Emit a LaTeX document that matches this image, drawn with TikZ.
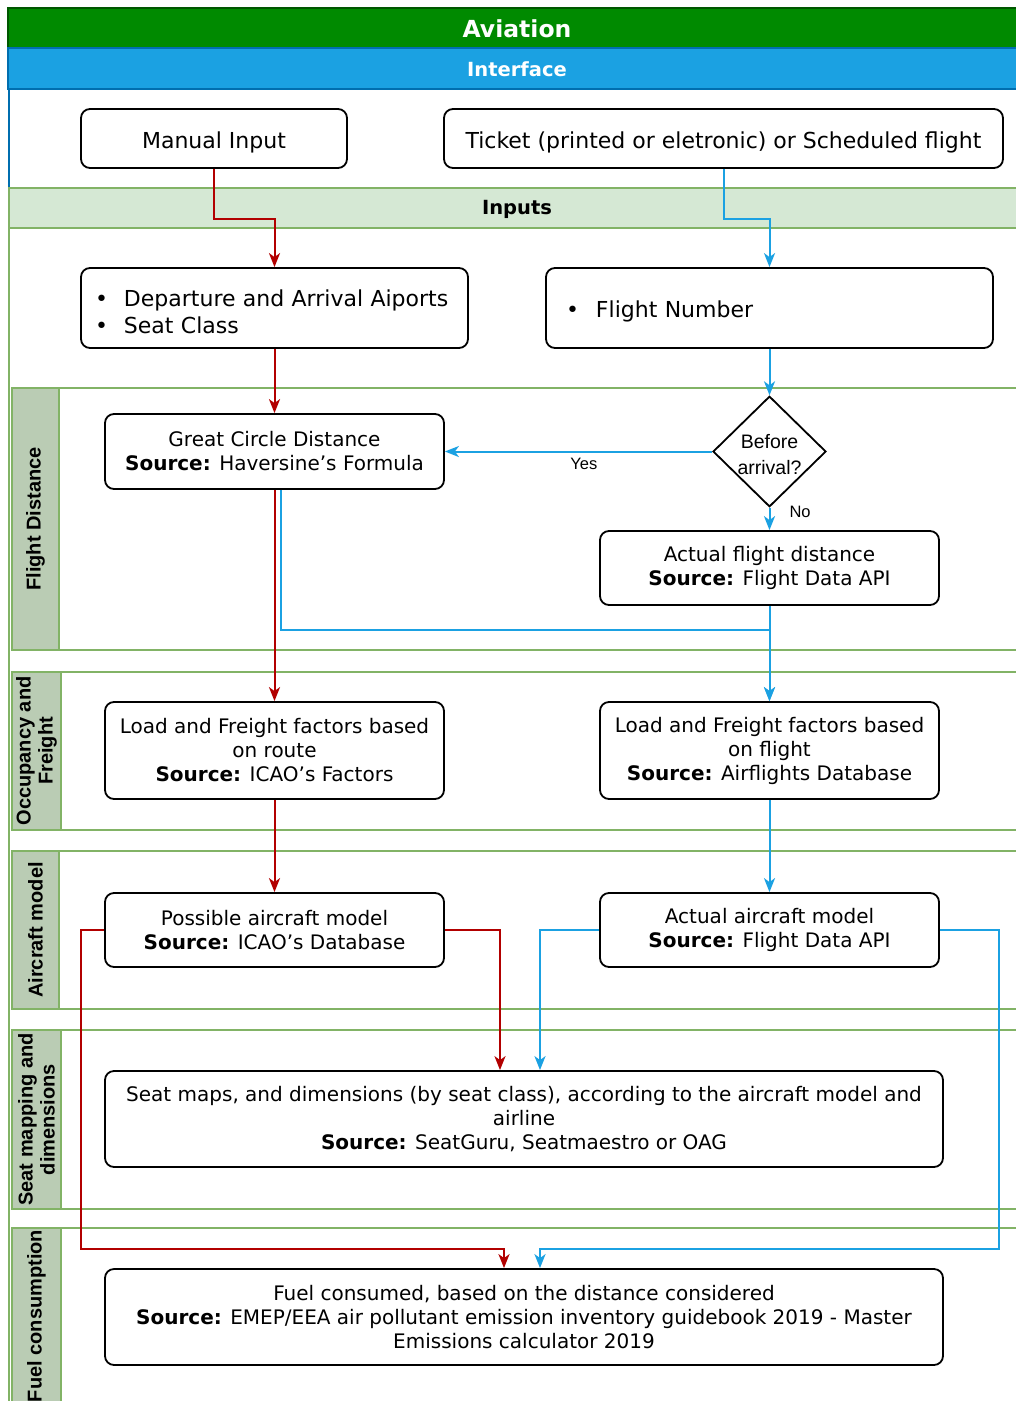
\documentclass[tikz,border=0pt]{standalone}
\usepackage{fontspec}
\setmainfont{DejaVu Sans}
\newfontfamily\arialfont{Liberation Sans}
\usetikzlibrary{arrows.meta,shapes.geometric}

\definecolor{hdrgreen}{HTML}{008A00}
\definecolor{hdrgreenb}{HTML}{005700}
\definecolor{hdrblue}{HTML}{1BA1E2}
\definecolor{hdrblueb}{HTML}{006EAF}
\definecolor{lanefill}{HTML}{D5E8D4}
\definecolor{laneline}{HTML}{82B366}
\definecolor{lanelabel}{HTML}{BACCB4}
\definecolor{flowred}{HTML}{B20000}
\definecolor{flowblue}{HTML}{1BA1E2}

\newcommand\fcTop{\fontsize{22}{26.4}\selectfont}
\newcommand\fcBox{\fontsize{20}{24}\selectfont}
\newcommand\fcLane{\arialfont\bfseries\fontsize{20}{22}\selectfont}
\newcommand\fcBig{\bfseries\fontsize{23.5}{28}\selectfont}
\newcommand\fcHead{\bfseries\fontsize{19.5}{24}\selectfont}
\newcommand\fcDia{\arialfont\fontsize{19.5}{26}\selectfont}
\newcommand\fcEdge{\arialfont\fontsize{16.5}{19}\selectfont}

\begin{document}
\begin{tikzpicture}[x=1pt,y=-1pt,
  box/.style={draw=black, line width=1.8pt, rounded corners=9pt, fill=white,
    inner sep=0pt, align=center, font=\fcBox,
    execute at begin node={\rule{0pt}{1.1em}}},
  topbox/.style={box, font=\fcTop},
  decision/.style={draw=black, line width=1.8pt, shape=diamond, fill=white,
    inner sep=0pt, align=center, font=\fcDia},
  lanebody/.style={draw=laneline, line width=1.5pt, fill=white},
  lanehead/.style={draw=laneline, line width=1.5pt, fill=lanelabel},
  lanetext/.style={rotate=90, align=center, font=\fcLane},
  flow/.style={line width=2pt, -{Stealth[length=14pt,width=11pt,inset=4pt]}},
  redflow/.style={flow, draw=flowred},
  blueflow/.style={flow, draw=flowblue},
  edgelabel/.style={font=\fcEdge, inner sep=0pt}
]
\useasboundingbox (0,0) rectangle (1016,1401);
\clip (0,0) rectangle (1016,1401);
\fill[white] (0,0) rectangle (1016,1401);

% pool headers
\draw[fill=hdrgreen, draw=hdrgreenb, line width=1.5pt] (8,8) rectangle (1030,48);
\node[font=\fcBig, text=white] (aviation) at (517,29) {Aviation};
\draw[fill=hdrblue, draw=hdrblueb, line width=1.5pt] (8,48) rectangle (1030,89);
\node[font=\fcHead, text=white] (interface) at (517,69) {Interface};
\draw[hdrblueb, line width=1.5pt] (9,89) -- (9,188);
\draw[fill=lanefill, draw=laneline, line width=1.5pt] (9,188) rectangle (1030,228);
\node[font=\fcHead] (inputs) at (517,209) {Inputs};
\draw[laneline, line width=1.5pt] (9,228) -- (9,1420);

% swimlanes
\draw[lanebody] (12,388) rectangle (1030,650);
\draw[lanehead] (12,388) rectangle (59,650);
\node[lanetext] (lane1) at (35.5,519) {Flight Distance};

\draw[lanebody] (12,672) rectangle (1030,830);
\draw[lanehead] (12,672) rectangle (61,830);
\node[lanetext] (lane2) at (36.5,751) {Occupancy and\\Freight};

\draw[lanebody] (12,851) rectangle (1030,1009);
\draw[lanehead] (12,851) rectangle (59,1009);
\node[lanetext] (lane3) at (35.5,930) {Aircraft model};

\draw[lanebody] (12,1030) rectangle (1030,1209);
\draw[lanehead] (12,1030) rectangle (61,1209);
\node[lanetext] (lane4) at (36.5,1119.5) {Seat mapping and\\dimensions};

\draw[lanebody] (12,1228) rectangle (1030,1420);
\draw[lanehead] (12,1228) rectangle (61,1420);
\node[lanetext] (lane5) at (36.5,1316) {Fuel consumption};

% boxes
\node[topbox, minimum width=266pt, minimum height=59pt] (manual) at (214,138.5) {Manual Input};
\node[topbox, minimum width=559pt, minimum height=59pt] (ticket) at (723.5,138.5)
  {Ticket (printed or eletronic) or Scheduled flight};
\node[topbox, minimum height=80pt, text width=359pt, inner xsep=14pt, align=left] (dep) at (274.5,308)
  {\makebox[29pt][l]{\textbullet}Departure and Arrival Aiports\\
   \makebox[29pt][l]{\textbullet}Seat Class};
\node[topbox, minimum height=80pt, text width=407pt, inner xsep=20pt, align=left] (fnum) at (769.5,308)
  {\makebox[30pt][l]{\textbullet}Flight Number};

\node[box, minimum width=339pt, minimum height=75pt] (gc) at (274.5,451.5)
  {Great Circle Distance\\\textbf{Source:} Haversine's Formula};
\node[decision, minimum width=113pt, minimum height=109pt] (dia) at (769.5,451.5)
  {\rule{0pt}{1.05em}Before\\arrival?};
\node[box, minimum width=339pt, minimum height=74pt] (afd) at (769.5,568)
  {Actual flight distance\\\textbf{Source:} Flight Data API};

\node[box, minimum width=339pt, minimum height=97pt] (lr) at (274.5,750.5)
  {Load and Freight factors based\\on route\\\textbf{Source:} ICAO's Factors};
\node[box, minimum width=339pt, minimum height=97pt] (lf) at (769.5,750.5)
  {Load and Freight factors based\\on flight\\\textbf{Source:} Airflights Database};

\node[box, minimum width=339pt, minimum height=74pt] (pa) at (274.5,930)
  {Possible aircraft model\\\textbf{Source:} ICAO's Database};
\node[box, minimum width=339pt, minimum height=74pt] (aa) at (769.5,930)
  {Actual aircraft model\\\textbf{Source:} Flight Data API};

\node[box, minimum width=838pt, minimum height=96pt] (seat) at (524,1119)
  {Seat maps, and dimensions (by seat class), according to the aircraft model and\\
   airline\\\textbf{Source:} SeatGuru, Seatmaestro or OAG};
\node[box, minimum width=838pt, minimum height=96pt] (fuel) at (524,1317)
  {Fuel consumed, based on the distance considered\\
   \textbf{Source:} EMEP/EEA air pollutant emission inventory guidebook 2019 - Master\\
   Emissions calculator 2019};

% connectors
\draw[redflow] (manual.south) -- ++(0,50) -| (dep.north);
\draw[blueflow] (ticket.south) -- ++(0,50) -| (fnum.north);
\draw[redflow] (dep.south) -- (gc.north);
\draw[blueflow] (fnum.south) -- (dia.north);
\draw[blueflow] (dia.west) -- node[edgelabel, pos=0.48, yshift=-12pt] (yes) {Yes} (gc.east);
\draw[blueflow] (dia.south) -- node[edgelabel, pos=0.2, anchor=west, xshift=19pt] (no) {No} (afd.north);
\draw[redflow] (gc.south) -- (lr.north);
\coordinate (join) at (769.5,630);
\draw[blueflow] ([xshift=6.5pt]gc.south) |- (join) -- (lf.north);
\draw[blueflow] (afd.south) -- (lf.north);
\draw[redflow] (lr.south) -- (pa.north);
\draw[blueflow] (lf.south) -- (aa.north);
\draw[redflow] (pa.east) -| ([xshift=-24pt]seat.north);
\draw[blueflow] (aa.west) -| ([xshift=16pt]seat.north);
\coordinate (redturn) at (81,1249);
\draw[redflow] (pa.west) -| (redturn) -| ([xshift=-20pt]fuel.north);
\coordinate (blueturn) at (999,1249);
\draw[blueflow] (aa.east) -| (blueturn) -| ([xshift=16pt]fuel.north);
\end{tikzpicture}
\end{document}
